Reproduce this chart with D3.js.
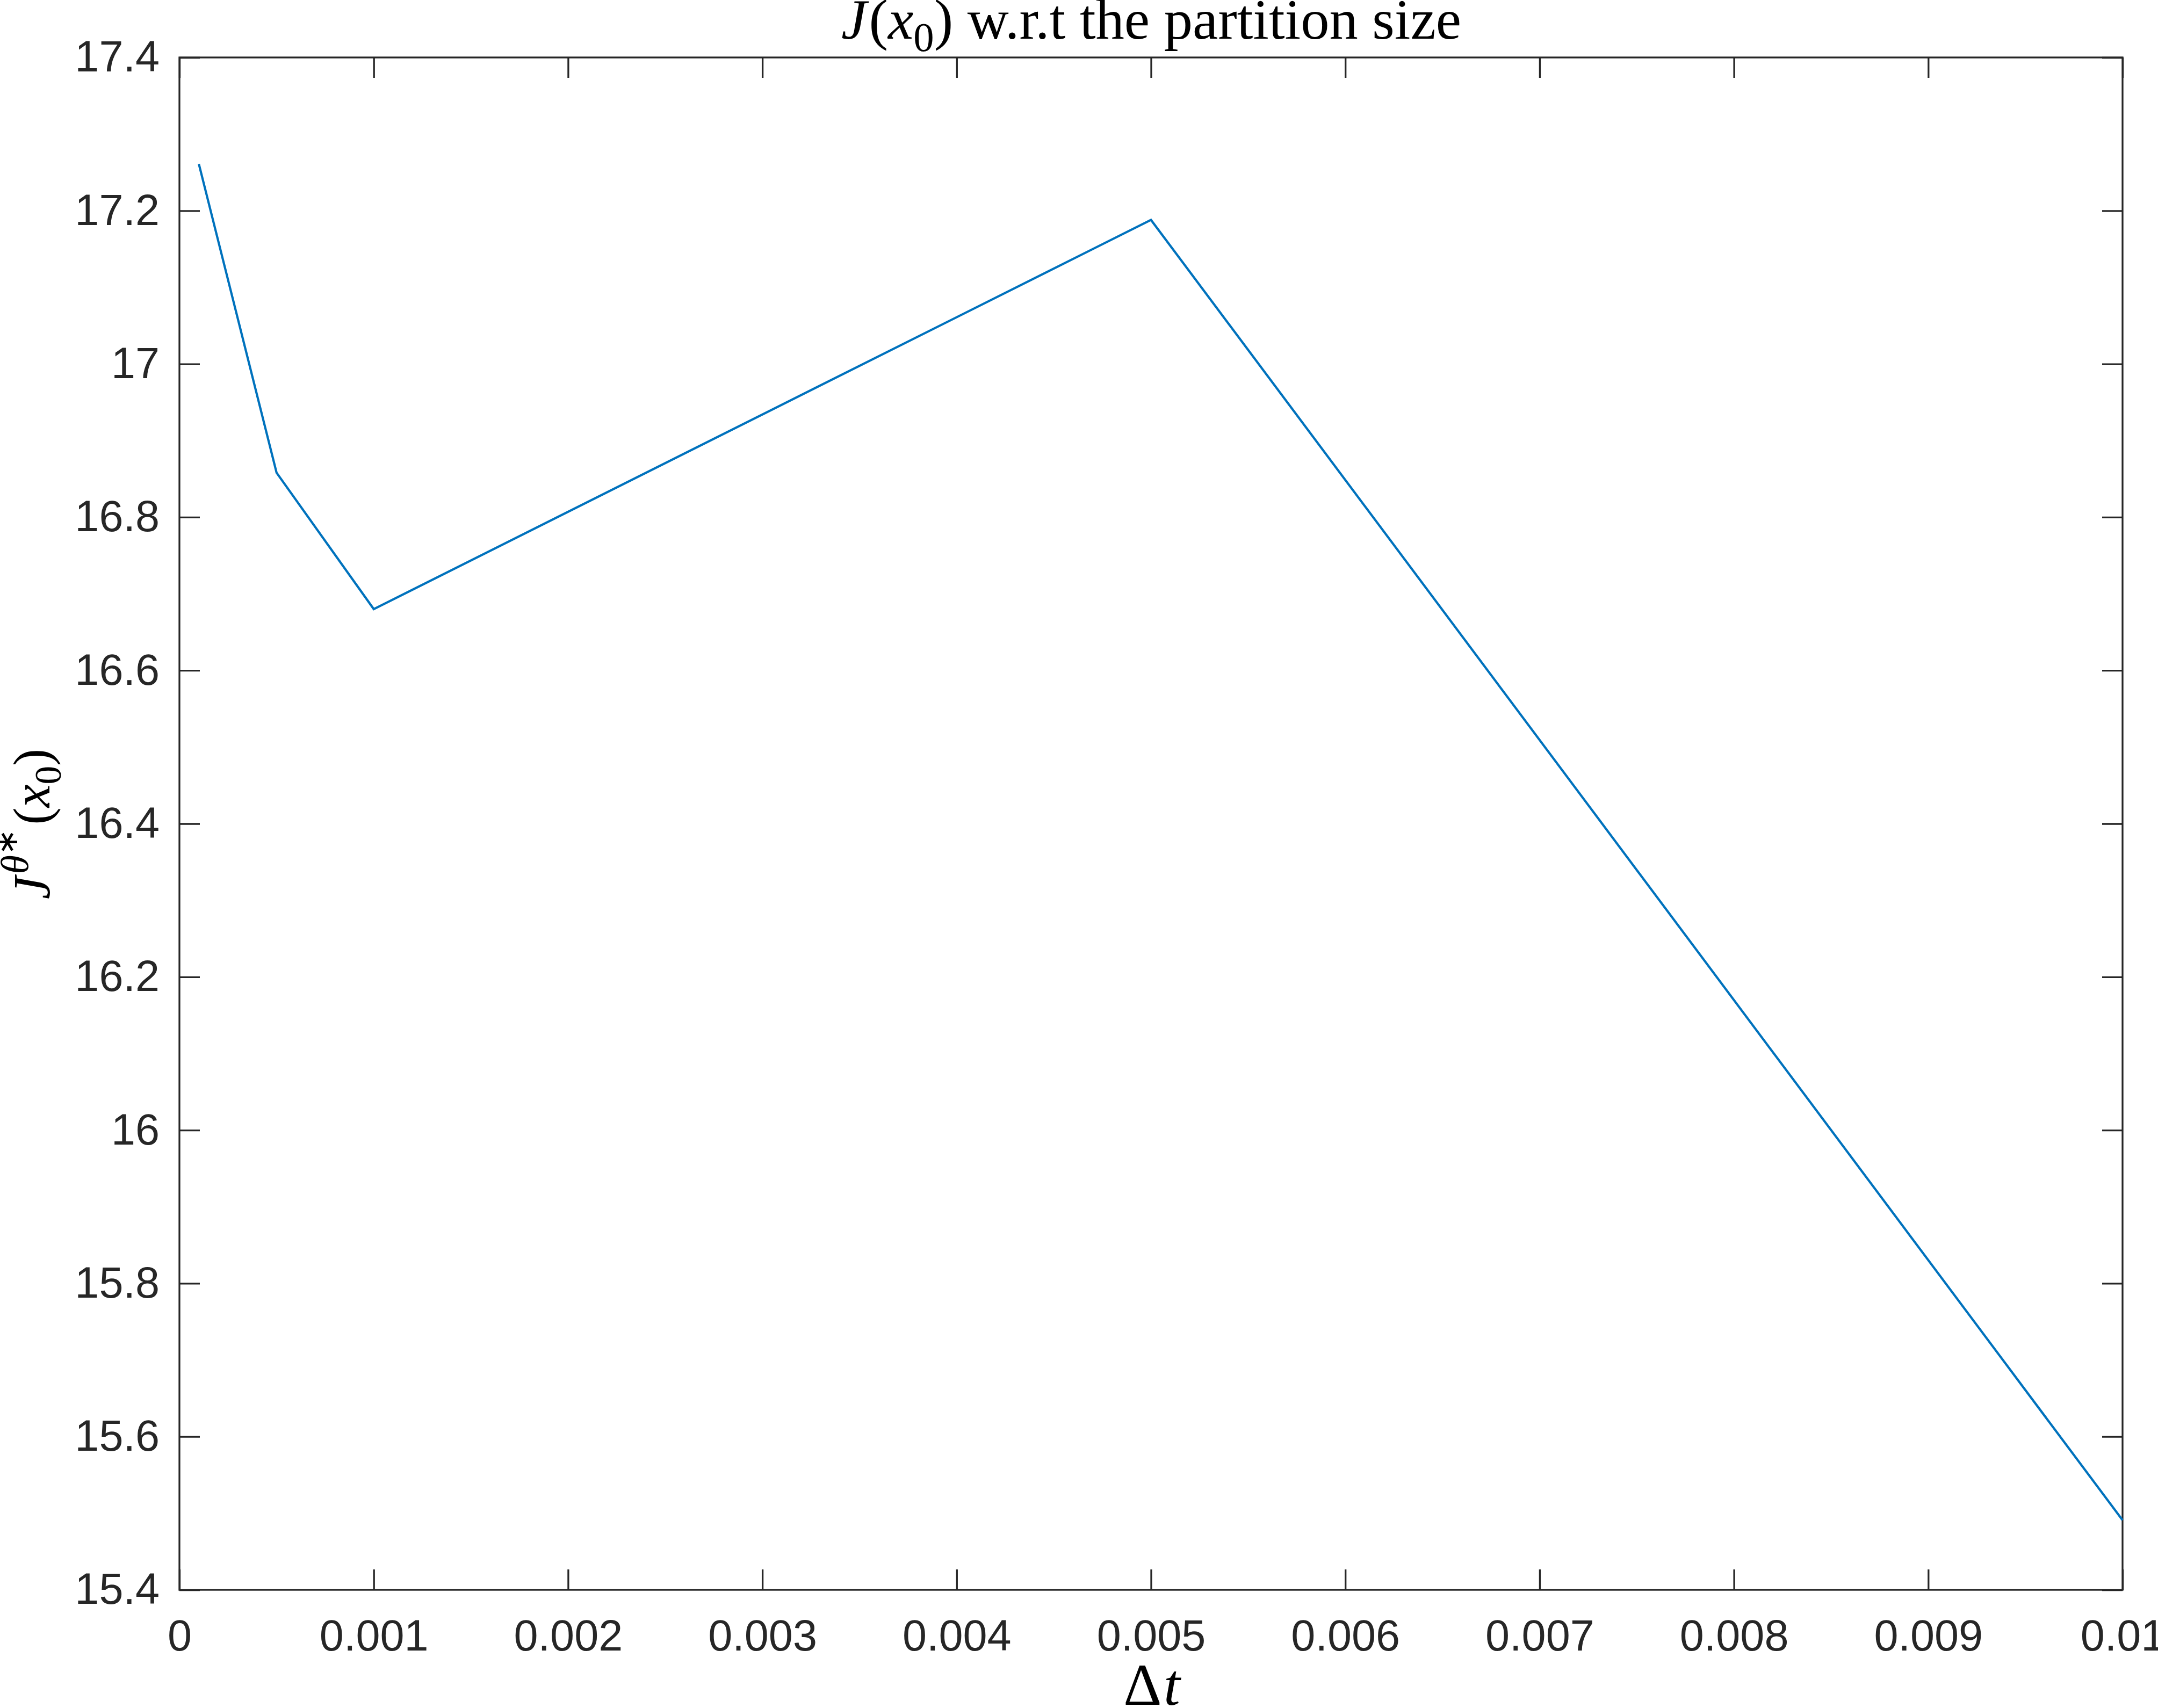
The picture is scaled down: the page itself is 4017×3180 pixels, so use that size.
<!DOCTYPE html>
<html>
<head>
<meta charset="utf-8">
<script src="https://cdn.jsdelivr.net/npm/d3@7"></script>
<style>
  html, body { margin: 0; padding: 0; background: #ffffff; }
  svg { display: block; }
</style>
</head>
<body>
<script>
// ---- data ----
const dtValues = [0.0001, 0.0005, 0.001, 0.005, 0.01];
const jValues = [17.261, 16.858, 16.680, 17.188, 15.491];
const xTicks = [0, 0.001, 0.002, 0.003, 0.004, 0.005, 0.006, 0.007, 0.008, 0.009, 0.01];
const xTickLabels = ["0", "0.001", "0.002", "0.003", "0.004", "0.005", "0.006", "0.007", "0.008", "0.009", "0.01"];
const yTicks = [15.4, 15.6, 15.8, 16.0, 16.2, 16.4, 16.6, 16.8, 17.0, 17.2, 17.4];
const yTickLabels = ["15.4", "15.6", "15.8", "16", "16.2", "16.4", "16.6", "16.8", "17", "17.2", "17.4"];

// ---- layout ----
const W = 4017, H = 3180;
const L = 334, R = 3951, T = 107, B = 2960;
const axisColor = "#262626";
const lineColor = "#0072BD";
const tickFont = "'Liberation Sans', Arial, Helvetica, sans-serif";
const mathFont = "'Liberation Serif', 'Times New Roman', serif";

const svg = d3.select("body").append("svg").attr("width", W).attr("height", H);
svg.append("rect").attr("width", W).attr("height", H).attr("fill", "#ffffff");

const x = d3.scaleLinear().domain([0, 0.01]).range([L, R]);
const y = d3.scaleLinear().domain([15.4, 17.4]).range([B, T]);

function styleAxis(g) {
  g.select(".domain").remove();
  g.selectAll(".tick line").attr("stroke", axisColor).attr("stroke-width", 3.3);
  g.selectAll(".tick text").attr("fill", axisColor)
    .style("font-family", tickFont).style("font-size", "81px");
}

svg.append("g").attr("transform", `translate(0,${B})`)
  .call(d3.axisBottom(x).tickValues(xTicks).tickFormat((d, i) => xTickLabels[i]).tickSize(-38).tickPadding(55))
  .call(styleAxis);
svg.append("g").attr("transform", `translate(0,${T})`)
  .call(d3.axisTop(x).tickValues(xTicks).tickFormat("").tickSize(-38))
  .call(styleAxis);
svg.append("g").attr("transform", `translate(${L},0)`)
  .call(d3.axisLeft(y).tickValues(yTicks).tickFormat((d, i) => yTickLabels[i]).tickSize(-38).tickPadding(37))
  .call(styleAxis);
svg.append("g").attr("transform", `translate(${R},0)`)
  .call(d3.axisRight(y).tickValues(yTicks).tickFormat("").tickSize(-38))
  .call(styleAxis);

// box
svg.append("rect").attr("x", L).attr("y", T).attr("width", R - L).attr("height", B - T)
  .attr("fill", "none").attr("stroke", axisColor).attr("stroke-width", 3.3);

// data line
const lineGen = d3.line().x((d, i) => x(dtValues[i])).y((d, i) => y(jValues[i]));
svg.append("path").datum(jValues).attr("d", lineGen)
  .attr("fill", "none").attr("stroke", lineColor).attr("stroke-width", 4.2)
  .attr("stroke-linejoin", "miter");

// ---- math-like text helper ----
function mathText(parent, parts, size) {
  const t = parent.append("text").style("font-family", mathFont).style("font-size", size + "px")
    .attr("fill", "#000000");
  let level = 0;
  parts.forEach(p => {
    const off = (p.off !== undefined ? p.off : 0) * size;
    const sz = (p.sz !== undefined ? p.sz : 1) * size;
    const ts = t.append("tspan").text(p.t)
      .style("font-style", p.it ? "italic" : "normal")
      .style("font-size", sz + "px")
      .attr("dy", off - level);
    if (p.dx) ts.attr("dx", p.dx * size);
    level = off;
  });
  return t;
}

function fitText(node, parts, targetWidth, base) {
  let t = mathText(node, parts, base);
  const w = t.node().getComputedTextLength();
  const s = base * targetWidth / w;
  t.remove();
  return mathText(node, parts, s);
}

// title
const titleG = svg.append("g");
const titleParts = [
  { t: "J", it: true }, { t: "(", dx: 0.04 }, { t: "x", it: true }, { t: "0", off: 0.22, sz: 0.72 }, { t: ")" },
  { t: " w.r.t the partition size" }
];
const title = fitText(titleG, titleParts, 1150, 88);
title.attr("x", 2143).attr("y", 72).attr("text-anchor", "middle");

// x label
const xlG = svg.append("g");
const xl = fitText(xlG, [{ t: "Δ" }, { t: "t", it: true, dx: 0.03 }], 102, 95);
xl.attr("x", 2144).attr("y", 3174).attr("text-anchor", "middle");

// y label
const ylG = svg.append("g").attr("transform", "translate(92,1534) rotate(-90)");
const yl = fitText(ylG, [
  { t: "J", it: true }, { t: "θ", it: true, off: -0.42, sz: 0.75, dx: 0.04 }, { t: "∗", off: -0.62, sz: 0.6 },
  { t: "(", dx: 0.08 }, { t: "x", it: true }, { t: "0", off: 0.22, sz: 0.72 }, { t: ")" }
], 268, 88);
yl.attr("x", 0).attr("y", 0).attr("text-anchor", "middle");
</script>
</body>
</html>
